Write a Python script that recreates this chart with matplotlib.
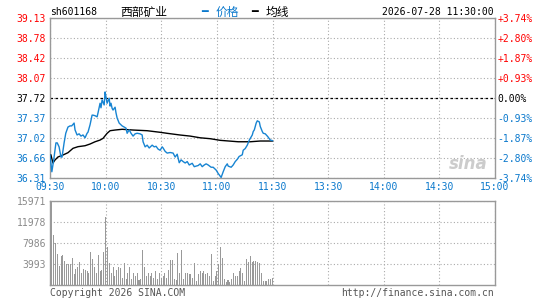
import matplotlib
matplotlib.use("Agg")
import matplotlib.pyplot as plt

# ---------------- data ----------------
time_labels = ["09:30", "10:00", "10:30", "11:00", "11:30", "13:30", "14:00", "14:30", "15:00"]
price_labels = ["36.31", "36.66", "37.02", "37.37", "37.72", "38.07", "38.42", "38.78", "39.13"]
pct_labels = ["-3.74%", "-2.80%", "-1.87%", "-0.93%", "0.00%", "+0.93%", "+1.87%", "+2.80%", "+3.74%"]
vol_labels = ["3993", "7986", "11978", "15971"]
prev_close = 37.72
price_low, price_high = 36.31, 39.13
vol_max = 15971

price_minute = [0, 1, 2, 3.2, 3.9, 4.9, 5.9, 6.5, 7.6, 8.5, 9.7, 10.8, 11.7, 13, 13.5, 14.6, 15.7, 16.7,
                17.8, 18.9, 20, 20.5, 21.6, 22.7, 23.2, 24.3, 25.4, 25.9, 27, 27.5, 28.1, 29.2, 29.7,
                30.2, 30.8, 31.9, 32.4, 32.9, 33.5, 34, 35.1, 35.6, 36.2, 37.3, 38.9, 40, 41, 41.6,
                42.7, 43.7, 44.8, 45.9, 47, 48.6, 49.7, 50.2, 51.3, 52.4, 53.5, 55.1, 56.2, 57.2,
                58.3, 59.4, 60.5, 61, 62.1, 63.2, 64.8, 66.4, 67.5, 68.6, 69.7, 70.7, 71.8, 72.9,
                74, 75.1, 76.7, 77.8, 78.8, 79.9, 81, 82.1, 83.2, 84.2, 85.3, 86.9, 88, 89.6, 90.7,
                92.3, 93.4, 94.5, 95.6, 96.1, 97.7, 98.8, 99.9, 101, 102, 103.7, 104.2, 105.3,
                106.4, 107.5, 109.1, 109.6, 110.2, 110.7, 111.2, 111.8, 112.9, 113.4, 114.5, 115,
                116.1, 117.2, 117.7, 118.8, 120]
price_value = [36.72, 36.42, 36.63, 36.93, 36.93, 36.86, 36.68, 36.68, 36.93, 37.10, 37.21, 37.23,
               37.23, 37.28, 37.16, 37.07, 37.09, 37.05, 37.07, 37.02, 37.10, 37.12, 37.25, 37.42,
               37.42, 37.41, 37.39, 37.46, 37.63, 37.55, 37.69, 37.60, 37.83, 37.74, 37.63, 37.72,
               37.58, 37.63, 37.54, 37.51, 37.56, 37.46, 37.37, 37.28, 37.23, 37.21, 37.19, 37.10,
               37.16, 37.10, 37.05, 37.09, 37.10, 37.09, 37.07, 36.95, 36.86, 36.89, 36.84, 36.89,
               36.86, 36.87, 36.82, 36.80, 36.86, 36.84, 36.78, 36.75, 36.76, 36.75, 36.68, 36.73,
               36.58, 36.63, 36.60, 36.575, 36.60, 36.54, 36.57, 36.51, 36.52, 36.53, 36.56, 36.51,
               36.54, 36.56, 36.54, 36.50, 36.50, 36.45, 36.39, 36.32, 36.42, 36.51, 36.56, 36.52,
               36.50, 36.54, 36.60, 36.64, 36.69, 36.72, 36.80, 36.83, 36.89, 36.98, 37.07, 37.13,
               37.16, 37.22, 37.28, 37.32, 37.30, 37.22, 37.13, 37.10, 37.09, 37.05, 37.03, 36.98,
               36.97]

avg_minute = [0.5, 1.6, 2.7, 4.3, 7, 9.7, 12.4, 15.1, 18.9, 21.6, 24.3, 27, 28.6, 30.8, 32.4, 35.1,
              38.9, 44.8, 52.4, 59.4, 63.2, 70.2, 75.6, 81, 86.4, 91.8, 101.5, 108, 113.4, 120]
avg_value = [36.716, 36.575, 36.628, 36.681, 36.716, 36.757, 36.834, 36.863, 36.88, 36.91, 36.95,
             36.98, 37.01, 37.099, 37.145, 37.157, 37.17, 37.157, 37.145, 37.117, 37.099, 37.069,
             37.05, 37.02, 37.004, 36.975, 36.95, 36.95, 36.963, 36.963]

volume = [5700, 15971, 9500, 7900, 5900, 3670, 5500, 5700, 4560, 3930,
          3930, 3930, 5200, 2030, 2950, 3480, 4310, 2220, 3040, 2790,
          2600, 2220, 6340, 4940, 3350, 2220, 5700, 2600, 2850, 6340,
          12990, 7290, 4120, 2220, 3480, 1770, 2850, 3350, 3160, 1400,
          4180, 1140, 2220, 3350, 1140, 2220, 1770, 2220, 950, 1140,
          6650, 3350, 1770, 2220, 1770, 2220, 1400, 2600, 1140, 2220,
          1400, 1770, 2220, 1400, 2850, 4750, 4750, 1140, 950, 6020,
          2220, 6650, 1140, 2220, 2220, 2030, 2030, 1400, 4120, 760,
          2030, 2600, 2220, 2600, 2030, 2220, 1770, 5830, 760, 1770,
          2600, 3930, 7290, 5200, 1140, 500, 950, 600, 1140, 2220,
          1770, 1770, 2600, 3160, 2220, 760, 5000, 4310, 5580, 4310,
          4500, 4500, 4310, 4120, 2220, 760, 760, 760, 1140, 1140, 1330]

# ---------------- style ----------------
W, H = 545, 300
RED = "#ff0000"
BLUE = "#0a78cc"
LINE_BLUE = "#1784d2"
GRID = "#aaaaaa"
BORDER = "#999999"
GRAYTXT = "#8a8a8a"
MONO = ["DejaVu Sans Mono"]
CJK = ["Noto Sans CJK SC", "DejaVu Sans"]
FS = 7

fig = plt.figure(figsize=(W / 100, H / 100), dpi=100)
fig.patch.set_facecolor("white")


def fx(px):
    return px / W


def fy(py):
    return 1 - py / H


left, right = 50, 495
ax = fig.add_axes([fx(left), fy(178), fx(right - left), fy(18.3) - fy(178)])
axv = fig.add_axes([fx(left), fy(285), fx(right - left), fy(201) - fy(285)])

xticks = [30 * i for i in range(len(time_labels))]
step = (price_high - price_low) / (len(price_labels) - 1)
pticks = [price_low + i * step for i in range(len(price_labels))]

# price panel
ax.set_xlim(0, 240)
ax.set_ylim(price_low, price_high)
ax.set_xticks(xticks)
ax.set_xticklabels(time_labels, fontfamily=MONO, fontsize=FS, color=BLUE)
ax.set_yticks(pticks)
ax.set_yticklabels(price_labels, fontfamily=MONO, fontsize=FS)
for i, t in enumerate(ax.get_yticklabels()):
    t.set_color(RED if i > 4 else ("black" if i == 4 else BLUE))
ax.tick_params(length=0, pad=3)
ax.grid(True, linestyle=(0, (1, 2)), color=GRID, linewidth=0.8)
for s in ax.spines.values():
    s.set_color(BORDER)
    s.set_linewidth(1.0)
ax.axhline(prev_close, color="black", linestyle=(0, (2, 2)), linewidth=0.9, zorder=2)

ax2 = ax.twinx()
ax2.set_ylim(price_low, price_high)
ax2.set_yticks(pticks)
ax2.set_yticklabels(pct_labels, fontfamily=MONO, fontsize=FS)
for i, t in enumerate(ax2.get_yticklabels()):
    t.set_color(RED if i > 4 else ("black" if i == 4 else BLUE))
ax2.tick_params(length=0, pad=2)
for s in ax2.spines.values():
    s.set_visible(False)

ax.plot(price_minute, price_value, color=LINE_BLUE, linewidth=1.0, zorder=4)
ax.plot(avg_minute, avg_value, color="black", linewidth=1.0, zorder=3)

ax.text(0.94, 0.09, "sina", transform=ax.transAxes, fontsize=12, fontweight="bold",
        style="italic", color="#cccccc", ha="center", va="center", zorder=1)

# volume panel
axv.set_xlim(0, 240)
axv.set_ylim(0, vol_max)
axv.bar(range(len(volume)), volume, width=0.55, color="#999999", align="center",
        linewidth=0, antialiased=False, zorder=3)
axv.set_xticks(xticks)
axv.set_xticklabels([])
vticks = [vol_max * (i + 1) / 4 for i in range(4)]
axv.set_yticks(vticks)
axv.set_yticklabels(vol_labels, fontfamily=MONO, fontsize=FS, color=GRAYTXT)
axv.tick_params(length=0, pad=3)
axv.grid(True, linestyle=(0, (1, 2)), color=GRID, linewidth=0.8)
for s in axv.spines.values():
    s.set_color(BORDER)
    s.set_linewidth(1.0)

# header texts
fig.text(fx(50), fy(12), "sh601168", fontfamily=MONO, fontsize=FS, color="black", va="center", ha="left")
fig.text(fx(120), fy(12), "西部矿业", fontfamily=CJK, fontsize=8.5, color="black", va="center", ha="left")
fig.text(fx(201), fy(12), "━", fontfamily=["DejaVu Sans"], fontsize=8, color=BLUE, va="center", ha="left")
fig.text(fx(216), fy(12), "价格", fontfamily=CJK, fontsize=8.5, color=BLUE, va="center", ha="left")
fig.text(fx(251), fy(12), "━", fontfamily=["DejaVu Sans"], fontsize=8, color="black", va="center", ha="left")
fig.text(fx(266), fy(12), "均线", fontfamily=CJK, fontsize=8.5, color="black", va="center", ha="left")
fig.text(fx(494), fy(12), "2026-07-28 11:30:00", fontfamily=MONO, fontsize=FS, color="black",
         va="center", ha="right")

# footer texts
fig.text(fx(50), fy(293), "Copyright 2026 SINA.COM", fontfamily=MONO, fontsize=FS, color="#555555",
         va="center", ha="left")
fig.text(fx(494), fy(293), "http://finance.sina.com.cn", fontfamily=MONO, fontsize=FS, color="#555555",
         va="center", ha="right")

fig.savefig("out.png", dpi=100, facecolor="white")
